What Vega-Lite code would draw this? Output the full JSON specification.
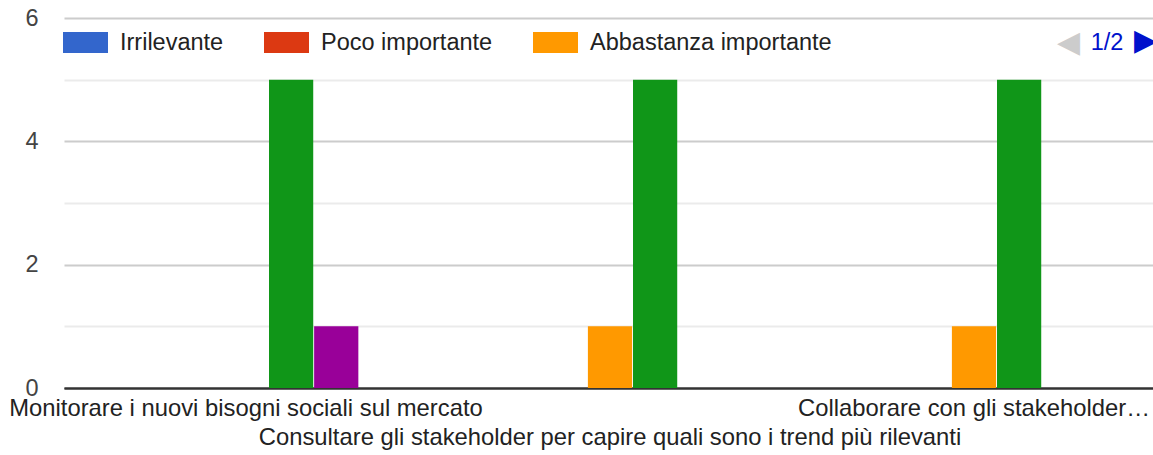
{
  "$schema": "https://vega.github.io/schema/vega-lite/v6.json",
  "width": 1091,
  "height": 370,
  "autosize": "none",
  "padding": {"left": 62, "top": 18, "right": 0, "bottom": 67},
  "background": "#ffffff",
  "title": {
    "text": "▶",
    "anchor": "end",
    "frame": "group",
    "orient": "top",
    "font": "DejaVu Sans",
    "fontSize": 30,
    "fontWeight": "normal",
    "color": "#0011cc",
    "baseline": "middle",
    "offset": 0,
    "dx": 4,
    "dy": 65
  },
  "data": {
    "values": [
      {"azione": "Monitorare i nuovi bisogni sociali sul mercato", "risposta": "Irrilevante", "conteggio": 0},
      {"azione": "Monitorare i nuovi bisogni sociali sul mercato", "risposta": "Poco importante", "conteggio": 0},
      {"azione": "Monitorare i nuovi bisogni sociali sul mercato", "risposta": "Abbastanza importante", "conteggio": 0},
      {"azione": "Monitorare i nuovi bisogni sociali sul mercato", "risposta": "Importante", "conteggio": 5},
      {"azione": "Monitorare i nuovi bisogni sociali sul mercato", "risposta": "Molto importante", "conteggio": 1},
      {"azione": "Consultare gli stakeholder per capire quali sono i trend più rilevanti", "risposta": "Irrilevante", "conteggio": 0},
      {"azione": "Consultare gli stakeholder per capire quali sono i trend più rilevanti", "risposta": "Poco importante", "conteggio": 0},
      {"azione": "Consultare gli stakeholder per capire quali sono i trend più rilevanti", "risposta": "Abbastanza importante", "conteggio": 1},
      {"azione": "Consultare gli stakeholder per capire quali sono i trend più rilevanti", "risposta": "Importante", "conteggio": 5},
      {"azione": "Consultare gli stakeholder per capire quali sono i trend più rilevanti", "risposta": "Molto importante", "conteggio": 0},
      {"azione": "Collaborare con gli stakeholder…", "risposta": "Irrilevante", "conteggio": 0},
      {"azione": "Collaborare con gli stakeholder…", "risposta": "Poco importante", "conteggio": 0},
      {"azione": "Collaborare con gli stakeholder…", "risposta": "Abbastanza importante", "conteggio": 1},
      {"azione": "Collaborare con gli stakeholder…", "risposta": "Importante", "conteggio": 5},
      {"azione": "Collaborare con gli stakeholder…", "risposta": "Molto importante", "conteggio": 0}
    ]
  },
  "mark": {"type": "bar"},
  "encoding": {
    "x": {
      "field": "azione",
      "type": "nominal",
      "sort": null,
      "scale": {"paddingInner": 0.3827, "paddingOuter": 0.19135, "range": [2, 1094]},
      "axis": {
        "title": "1/2",
        "titleX": 1044.5,
        "titleY": -345.5,
        "titleAlign": "center",
        "titleBaseline": "middle",
        "titleColor": "#0011cc",
        "titleFont": "Liberation Sans",
        "titleFontSize": 23.5,
        "titleFontWeight": "normal",
        "labelAngle": 0,
        "labelFont": "Liberation Sans",
        "labelFontSize": 23.8,
        "labelColor": "#222222",
        "labelBaseline": "top",
        "labelPadding": {"condition": {"test": "datum.value === 'Consultare gli stakeholder per capire quali sono i trend più rilevanti'", "value": 37}, "value": 8},
        "labelOverlap": false,
        "labelBound": false,
        "labelFlush": false,
        "labelLimit": 0,
        "ticks": false,
        "grid": false,
        "domain": true,
        "domainColor": "#333333",
        "domainWidth": 2,
        "encode": {
          "labels": {
            "update": {
              "align": {"signal": "datum.index === 0 ? 'left' : datum.index === 1 ? 'right' : 'center'"},
              "dx": {"signal": "datum.index === 0 ? -236 : datum.index === 1 ? 174 : 0"}
            }
          }
        }
      }
    },
    "xOffset": {
      "field": "risposta",
      "type": "nominal",
      "sort": ["Irrilevante", "Poco importante", "Abbastanza importante", "Importante", "Molto importante"],
      "scale": {"paddingInner": 0.02, "paddingOuter": 0}
    },
    "y": {
      "field": "conteggio",
      "type": "quantitative",
      "scale": {"domain": [0, 6], "nice": false},
      "axis": {
        "title": "◀",
        "titleX": 1006,
        "titleY": 24.5,
        "titleAngle": 0,
        "titleAlign": "center",
        "titleBaseline": "middle",
        "titleColor": "#cccccc",
        "titleFont": "DejaVu Sans",
        "titleFontSize": 30,
        "titleFontWeight": "normal",
        "values": [0, 1, 2, 3, 4, 5, 6],
        "labelExpr": "datum.value % 2 === 0 ? datum.label : ''",
        "labelFont": "Liberation Sans",
        "labelFontSize": 23.5,
        "labelColor": "#444444",
        "labelPadding": 24,
        "ticks": false,
        "domain": false,
        "grid": true,
        "gridColor": {"condition": [{"test": "datum.value === 0", "value": "#333333"}, {"test": "datum.value % 2 === 0", "value": "#cccccc"}], "value": "#ebebeb"},
        "gridWidth": 2
      }
    },
    "color": {
      "field": "risposta",
      "type": "nominal",
      "scale": {
        "domain": ["Irrilevante", "Poco importante", "Abbastanza importante", "Importante", "Molto importante"],
        "range": ["#3366cc", "#dc3912", "#ff9900", "#109618", "#990099"]
      },
      "legend": {
        "orient": "none",
        "legendX": 1,
        "legendY": 2,
        "direction": "horizontal",
        "title": null,
        "values": ["Irrilevante", "Poco importante", "Abbastanza importante"],
        "symbolType": "M-1,-0.467H1V0.467H-1Z",
        "symbolSize": 2025,
        "symbolStrokeWidth": 0,
        "labelFont": "Liberation Sans",
        "labelFontSize": 23.5,
        "labelColor": "#222222",
        "labelOffset": 12,
        "labelLimit": 0,
        "columnPadding": 40,
        "padding": 0
      }
    }
  },
  "config": {
    "view": {"stroke": null},
    "font": "Liberation Sans"
  }
}
